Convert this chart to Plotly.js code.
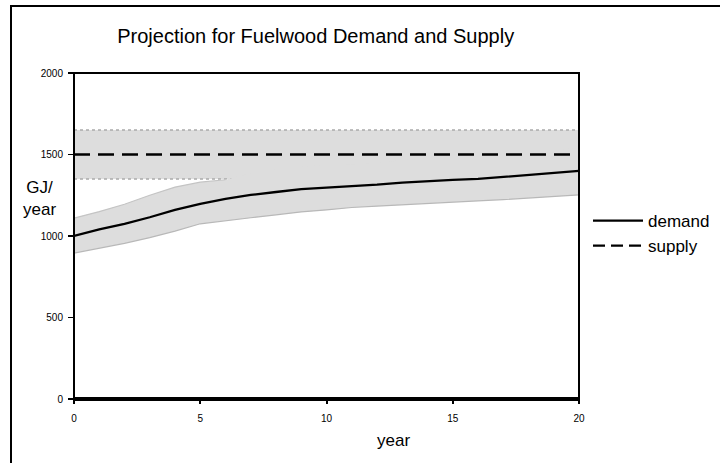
<!DOCTYPE html>
<html>
<head>
<meta charset="utf-8">
<script src="https://cdn.plot.ly/plotly-3.0.1.min.js"></script>
<style>
  html, body { margin: 0; padding: 0; background: #fff; }
  #chart { width: 720px; height: 463px; }
</style>
</head>
<body>
<div id="chart"></div>
<script>
// ---- data ----
const years      = [0, 1, 2, 3, 4, 5, 6, 7, 8, 9, 10, 11, 12, 13, 14, 15, 16, 17, 18, 19, 20];
const demand     = [1000, 1040, 1075, 1115, 1160, 1197, 1228, 1252, 1270, 1287, 1297, 1305, 1315, 1328, 1338, 1344, 1350, 1362, 1375, 1388, 1400];
const demandLow  = [895, 925, 955, 990, 1030, 1075, 1095, 1112, 1130, 1148, 1160, 1175, 1183, 1192, 1200, 1208, 1215, 1223, 1232, 1242, 1252];
const demandHigh = [1110, 1150, 1195, 1250, 1300, 1330, 1345, 1385, 1410, 1425, 1435, 1440, 1450, 1465, 1475, 1482, 1488, 1500, 1515, 1528, 1540];
const supplyYears = [0, 20];
const supply      = [1500, 1500];
const supplyLow   = [1350, 1350];
const supplyHigh  = [1650, 1650];
const xTicks = [0, 5, 10, 15, 20];
const yTicks = [0, 500, 1000, 1500, 2000];
const seriesNames = ['demand', 'supply'];
const titleText = 'Projection for Fuelwood Demand and Supply';

// ---- layout geometry ----
const W = 720, H = 463;
const M = {l: 74, r: 141, t: 73, b: 64, autoexpand: false};
const PW = W - M.l - M.r, PH = H - M.t - M.b;
const px = x => (x - M.l) / PW;
const py = y => (H - M.b - y) / PH;

const FONT = 'Liberation Sans, Arial, Helvetica, sans-serif';
const BAND = '#dddddd';

function rev(a) { return a.slice().reverse(); }

// visible part of the demand band's upper edge (below the supply band)
const hiX = [], hiY = [];
years.forEach((yr, i) => { if (demandHigh[i] <= supplyLow[0]) { hiX.push(yr); hiY.push(demandHigh[i]); } });

const traces = [
  { x: supplyYears.concat(rev(supplyYears)), y: supplyHigh.concat(rev(supplyLow)),
    type: 'scatter', mode: 'lines', fill: 'toself', fillcolor: BAND,
    line: {width: 0}, showlegend: false, hoverinfo: 'skip' },
  { x: supplyYears, y: supplyHigh, type: 'scatter', mode: 'lines',
    line: {color: '#aaaaaa', width: 1.5, dash: 'dot'}, showlegend: false, hoverinfo: 'skip' },
  { x: supplyYears, y: supplyLow, type: 'scatter', mode: 'lines',
    line: {color: '#aaaaaa', width: 1.5, dash: 'dot'}, showlegend: false, hoverinfo: 'skip' },
  { x: years.concat(rev(years)), y: demandHigh.concat(rev(demandLow)),
    type: 'scatter', mode: 'lines', fill: 'toself', fillcolor: BAND,
    line: {width: 0}, showlegend: false, hoverinfo: 'skip' },
  { x: years, y: demandLow, type: 'scatter', mode: 'lines',
    line: {color: '#b8b8b8', width: 1.2}, showlegend: false, hoverinfo: 'skip' },
  { x: hiX, y: hiY, type: 'scatter', mode: 'lines',
    line: {color: '#c4c4c4', width: 1.2}, showlegend: false, hoverinfo: 'skip' },
  { x: years, y: demand, name: seriesNames[0], type: 'scatter', mode: 'lines',
    line: {color: '#000000', width: 2.3}, legendrank: 1 },
  { x: supplyYears, y: supply, name: seriesNames[1], type: 'scatter', mode: 'lines',
    line: {color: '#000000', width: 2.3, dash: '16px,8px'}, showlegend: false },
  // legend entry for supply (legend sample uses a shorter dash so two dashes fit)
  { x: [null], y: [null], name: seriesNames[1], type: 'scatter', mode: 'lines',
    line: {color: '#000000', width: 2.3, dash: '12px,6px'}, legendrank: 2, hoverinfo: 'skip' }
];

const layout = {
  width: W, height: H,
  margin: M,
  paper_bgcolor: '#ffffff', plot_bgcolor: '#ffffff',
  font: {family: FONT, color: '#000000'},
  title: { text: titleText, font: {family: FONT, size: 20, color: '#000'},
           x: 315.7 / W, xref: 'container', xanchor: 'center',
           y: 1 - 36 / H, yref: 'container', yanchor: 'middle' },
  showlegend: true,
  legend: { x: px(588), y: py(203), xanchor: 'left', yanchor: 'top',
            font: {family: FONT, size: 17, color: '#000'},
            bgcolor: 'rgba(0,0,0,0)', borderwidth: 0, itemwidth: 50,
            traceorder: 'normal' },
  xaxis: { range: [0, 20], tickvals: xTicks, ticktext: xTicks.map(String),
           showgrid: false, zeroline: false, showline: false,
           ticks: 'outside', ticklen: 4, tickwidth: 2, tickcolor: '#000',
           tickfont: {family: FONT, size: 10, color: '#000'}, ticklabelstandoff: 6,
           fixedrange: true },
  yaxis: { range: [0, 2000], tickvals: yTicks, ticktext: yTicks.map(String),
           showgrid: false, zeroline: false, showline: false,
           ticks: 'outside', ticklen: 5, tickwidth: 1.5, tickcolor: '#000',
           tickfont: {family: FONT, size: 10, color: '#000'}, ticklabelstandoff: 3,
           fixedrange: true },
  annotations: [
    { text: 'GJ/<br>year', xref: 'paper', yref: 'paper', x: px(39), y: py(198),
      xanchor: 'center', yanchor: 'middle', showarrow: false, align: 'center',
      font: {family: FONT, size: 17, color: '#000'} },
    { text: 'year', xref: 'paper', yref: 'paper', x: px(393), y: py(440),
      xanchor: 'center', yanchor: 'middle', showarrow: false,
      font: {family: FONT, size: 17, color: '#000'} }
  ],
  shapes: [
    // plot frame
    { type: 'rect', xref: 'paper', yref: 'paper', x0: 0, x1: 1, y0: 0, y1: 1,
      line: {color: '#000', width: 2}, layer: 'above' },
    // thick baseline
    { type: 'line', xref: 'paper', yref: 'paper', x0: 0, x1: 1, y0: 0, y1: 0,
      line: {color: '#000', width: 4}, layer: 'above' },
    // outer picture frame (left and top)
    { type: 'line', xref: 'paper', yref: 'paper', x0: px(11), x1: px(11), y0: py(6), y1: py(470),
      line: {color: '#000', width: 2}, layer: 'above' },
    { type: 'line', xref: 'paper', yref: 'paper', x0: px(10), x1: px(730), y0: py(6), y1: py(6),
      line: {color: '#000', width: 2}, layer: 'above' }
  ]
};

Plotly.newPlot('chart', traces, layout, {displayModeBar: false, staticPlot: true});
</script>
</body>
</html>
